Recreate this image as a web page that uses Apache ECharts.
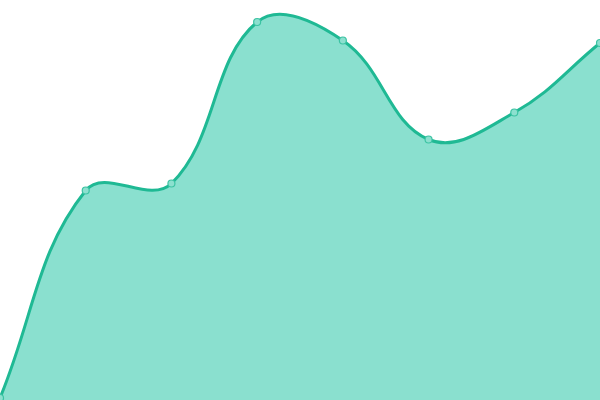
<!DOCTYPE html>
<html>
<head>
<meta charset="utf-8">
<script src="https://cdn.jsdelivr.net/npm/echarts@6/dist/echarts.min.js"></script>
<style>html,body{margin:0;padding:0;background:#fff}#c{width:600px;height:400px}</style>
</head>
<body>
<div id="c"></div>
<script>
const categories = ['A', 'B', 'C', 'D', 'E', 'F', 'G', 'H'];
const values = [2, 209.5, 216.5, 378, 359.5, 260.5, 287.5, 357];
const yMin = 0;
const yMax = 400;

const LINE = '#1fb994';
const FILL = '#8ae0cf';
const TENSION = 0.4;

function renderCurve(params, api) {
  if (params.dataIndex !== 0) return null;
  const cs = params.coordSys;
  const pts = values.map((v, i) => api.coord([i, v]));
  const clampX = x => Math.max(cs.x, Math.min(cs.x + cs.width, x));
  const clampY = y => Math.max(cs.y, Math.min(cs.y + cs.height, y));
  const cps = pts.map((p, i) => {
    const prev = pts[i - 1] || p;
    const next = pts[i + 1] || p;
    const d01 = Math.hypot(p[0] - prev[0], p[1] - prev[1]);
    const d12 = Math.hypot(next[0] - p[0], next[1] - p[1]);
    let s01 = d01 / (d01 + d12); let s12 = d12 / (d01 + d12);
    if (isNaN(s01)) s01 = 0; if (isNaN(s12)) s12 = 0;
    const fa = TENSION * s01, fb = TENSION * s12;
    const dx = next[0] - prev[0], dy = next[1] - prev[1];
    return {
      prev: [clampX(p[0] - fa * dx), clampY(p[1] - fa * dy)],
      next: [clampX(p[0] + fb * dx), clampY(p[1] + fb * dy)]
    };
  });
  let d = 'M' + pts[0][0] + ' ' + pts[0][1];
  for (let i = 1; i < pts.length; i++) {
    const a = cps[i - 1].next, b = cps[i].prev, p = pts[i];
    d += ' C' + a[0] + ' ' + a[1] + ' ' + b[0] + ' ' + b[1] + ' ' + p[0] + ' ' + p[1];
  }
  const base = api.coord([0, yMin])[1];
  const last = pts[pts.length - 1];
  const area = d + ' L' + last[0] + ' ' + base + ' L' + pts[0][0] + ' ' + base + ' Z';
  return {
    type: 'group',
    children: [
      { type: 'path', shape: { pathData: area }, style: { fill: FILL, stroke: null } },
      { type: 'path', shape: { pathData: d }, style: { fill: null, stroke: LINE, lineWidth: 3 } }
    ]
  };
}

const chart = echarts.init(document.getElementById('c'), null, { renderer: 'canvas' });
chart.setOption({
  animation: false,
  grid: { left: 0, right: 0, top: 0, bottom: 0 },
  xAxis: { type: 'category', data: categories, boundaryGap: false, show: false },
  yAxis: { type: 'value', min: yMin, max: yMax, show: false },
  series: [{
    type: 'custom',
    renderItem: renderCurve,
    data: values.map((v, i) => [i, v]),
    silent: true,
    z: 1
  }, {
    type: 'scatter',
    data: values,
    symbol: 'circle',
    symbolSize: 7,
    itemStyle: { color: '#8ce0cf', borderColor: '#3cc3a3', borderWidth: 1.2, opacity: 1 },
    z: 3
  }]
});
</script>
</body>
</html>
